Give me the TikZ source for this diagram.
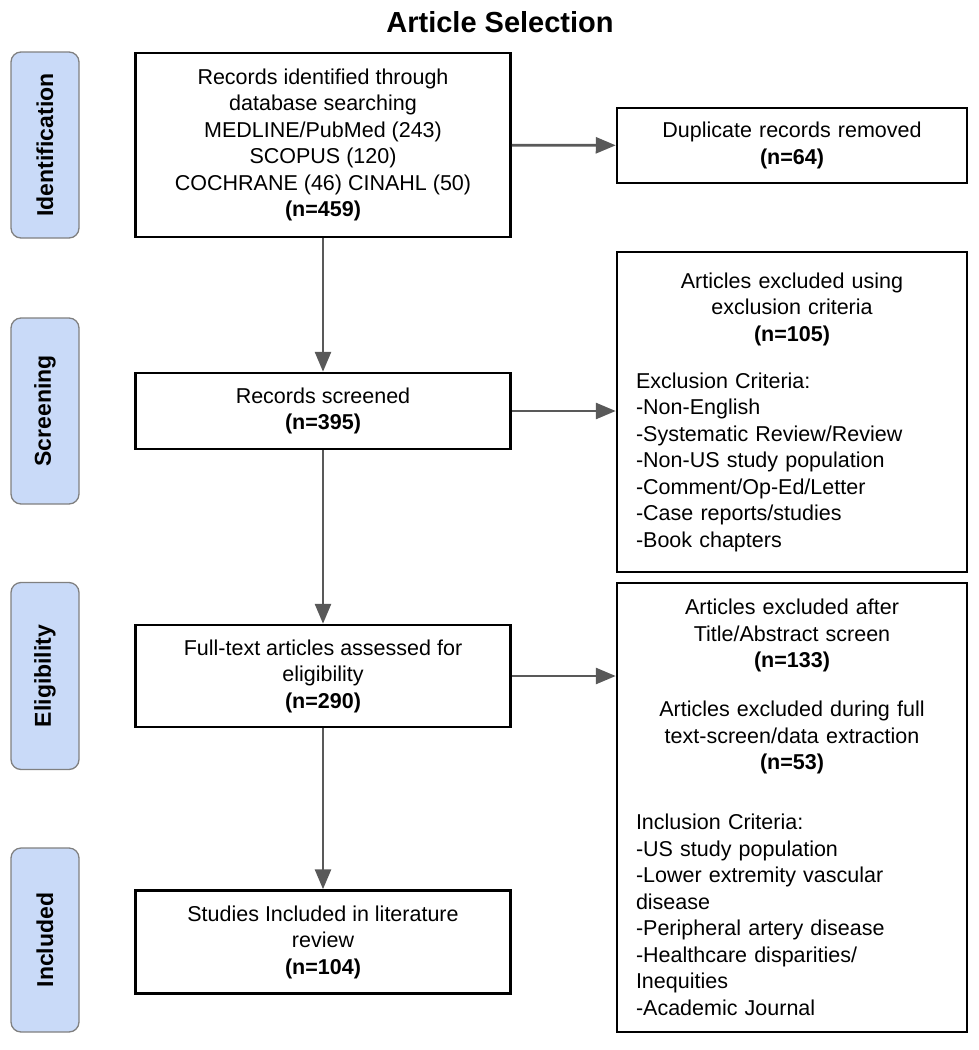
\documentclass[tikz,border=0pt]{standalone}
\usepackage{fontspec}
\setmainfont{Liberation Sans}
\usepackage{tikz}
\usetikzlibrary{arrows.meta}
\definecolor{phaseblue}{HTML}{C9DAF8}
\definecolor{phaseline}{HTML}{808080}
\definecolor{flowgray}{HTML}{595959}

\begin{document}
\begin{tikzpicture}[x=1pt, y=-1pt,
		phase/.style={draw=phaseline, line width=1.3pt, fill=phaseblue, rounded corners=10pt,
			rotate=90, minimum height=68pt, font=\fontsize{23}{27}\selectfont\bfseries},
		mainbox/.style={draw, line width=2.5pt, minimum width=375pt, align=center,
			font=\fontsize{21.5}{26.5}\selectfont},
		sidebox/.style={draw, line width=2.5pt, minimum width=350pt, text width=312pt,
			align=center, font=\fontsize{21.5}{26.5}\selectfont},
		flow/.style={draw=flowgray, line width=2.8pt, -{Triangle[length=20pt, width=16pt]}}]
			\useasboundingbox (0,0) rectangle (978,1050);
			\node (title) at (500,22) {\fontsize{29}{34}\selectfont\bfseries Article Selection};

			\node (pid) [phase, minimum width=186pt] at (45,145) {Identification};
			\node (pscr) [phase, minimum width=186pt] at (45,411) {Screening};
			\node (pelig) [phase, minimum width=187pt] at (45,676) {Eligibility};
			\node (pinc) [phase, minimum width=184pt] at (45,940) {Included};

			\node (ident) [mainbox, minimum height=184pt] at (323,145) {Records identified through\\
				database searching\\MEDLINE/PubMed (243)\\SCOPUS (120)\\
				COCHRANE (46) CINAHL (50)\\\textbf{(n=459)}};
			\node (screen) [mainbox, minimum height=76pt] at (323,411) {Records screened\\\textbf{(n=395)}};
			\node (full) [mainbox, minimum height=102pt] at (323,676) {Full-text articles assessed for\\
				eligibility\\\textbf{(n=290)}};
			\node (incl) [mainbox, minimum height=103pt] at (323,942) {Studies Included in literature\\
				review\\\textbf{(n=104)}};

			\node (dup) [sidebox, minimum height=75pt] at (792,145.5) {Duplicate records removed\\\textbf{(n=64)}};
			\node (excl) [sidebox, minimum height=320pt] at (792,412) {Articles excluded using\\
				exclusion criteria\\\textbf{(n=105)}\par\vspace{20.5pt}\raggedright
				Exclusion Criteria:\\-Non-English\\-Systematic Review/Review\\-Non-US study population\\
				-Comment/Op-Ed/Letter\\-Case reports/studies\\-Book chapters\par};
			\node (elig) [sidebox, minimum height=449pt] at (792,807.5) {Articles excluded after\\
				Title/Abstract screen\\\textbf{(n=133)}\par\vspace{22.5pt}
				Articles excluded during full\\text-screen/data extraction\\\textbf{(n=53)}\par\vspace{33.5pt}\raggedright
				Inclusion Criteria:\\-US study population\\-Lower extremity vascular\\disease\\
				-Peripheral artery disease\\-Healthcare disparities/\\Inequities\\-Academic Journal\par};

			\draw [flow] (ident) -- (screen);
			\draw [flow] (screen) -- (full);
			\draw [flow] (full) -- (incl);
			\draw [flow] (ident) -- (dup);
			\draw [flow] (screen.east) -- (screen.east -| excl.west);
			\draw [flow] (full.east) -- (full.east -| elig.west);
		\end{tikzpicture}
\end{document}
